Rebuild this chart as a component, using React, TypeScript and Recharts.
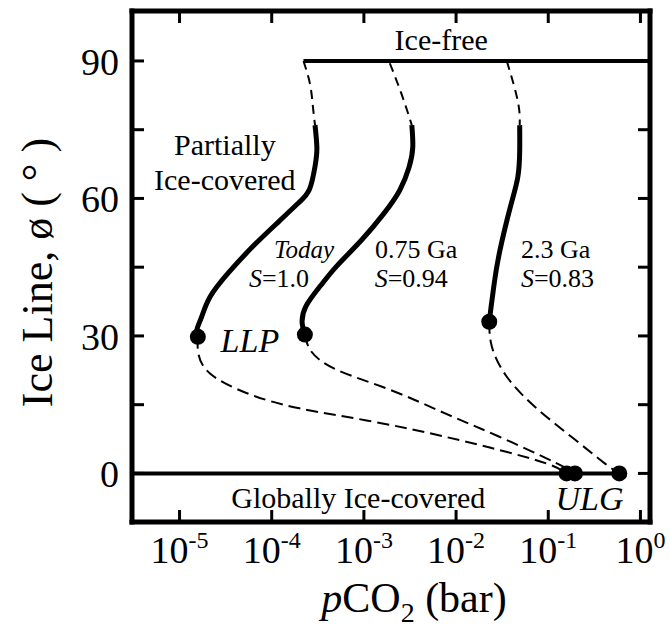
import React from 'react';
import { ComposedChart, Line, Scatter, XAxis, YAxis, ReferenceDot, Label } from 'recharts';

const SERIF = '"Liberation Serif", "Times New Roman", serif';

const X_MIN = 3.05e-6;
const X_MAX = 1.27;
const Y_MIN = -10.6;
const Y_MAX = 100.9;

const pTicks = [1e-5, 1e-4, 1e-3, 1e-2, 1e-1, 1];
const iceTicks = [0, 15, 30, 45, 60, 75, 90];
const iceTickLabels = [0, 30, 60, 90];

// Today, S=1.0
const todayUpper = [
  { p: 2.21e-4, y: 90 },
  { p: 2.6e-4, y: 85 },
  { p: 2.8e-4, y: 80 },
  { p: 2.95e-4, y: 76 },
];
const todaySolid = [
  { p: 2.95e-4, y: 76 },
  { p: 3.09e-4, y: 71 },
  { p: 2.95e-4, y: 67 },
  { p: 2.57e-4, y: 62 },
  { p: 1.95e-4, y: 59 },
  { p: 1.2e-4, y: 55 },
  { p: 6.3e-5, y: 49.6 },
  { p: 3.4e-5, y: 43.8 },
  { p: 2.14e-5, y: 38.5 },
  { p: 1.74e-5, y: 34.2 },
  { p: 1.55e-5, y: 31.5 },
  { p: 1.58e-5, y: 29.8 },
];
const todayLower = [
  { p: 1.58e-5, y: 29.8 },
  { p: 1.6e-5, y: 26.2 },
  { p: 2.14e-5, y: 21.8 },
  { p: 5.4e-5, y: 17.5 },
  { p: 2.0e-4, y: 14.2 },
  { p: 1.26e-3, y: 11.3 },
  { p: 7.6e-3, y: 8.0 },
  { p: 2.95e-2, y: 5.1 },
  { p: 9.5e-2, y: 2.2 },
  { p: 0.158, y: 0 },
];

// 0.75 Ga, S=0.94
const gaUpper075 = [
  { p: 1.91e-3, y: 89.5 },
  { p: 2.57e-3, y: 82.7 },
  { p: 3.31e-3, y: 76 },
];
const gaSolid075 = [
  { p: 3.31e-3, y: 76 },
  { p: 3.39e-3, y: 71.2 },
  { p: 3.09e-3, y: 66.8 },
  { p: 2.45e-3, y: 61.8 },
  { p: 1.66e-3, y: 56.8 },
  { p: 9.5e-4, y: 51.0 },
  { p: 5.1e-4, y: 45.3 },
  { p: 3.4e-4, y: 41 },
  { p: 2.34e-4, y: 36.4 },
  { p: 2.14e-4, y: 32.7 },
  { p: 2.29e-4, y: 30.3 },
];
const gaLower075 = [
  { p: 2.29e-4, y: 30.3 },
  { p: 2.69e-4, y: 26.6 },
  { p: 5.1e-4, y: 22.6 },
  { p: 1.95e-3, y: 18.2 },
  { p: 7.6e-3, y: 13.1 },
  { p: 2.95e-2, y: 8.0 },
  { p: 0.115, y: 2.5 },
  { p: 0.195, y: 0 },
];

// 2.3 Ga, S=0.83
const gaUpper23 = [
  { p: 3.55e-2, y: 90 },
  { p: 4.68e-2, y: 81.2 },
  { p: 4.9e-2, y: 76 },
];
const gaSolid23 = [
  { p: 4.9e-2, y: 76 },
  { p: 4.9e-2, y: 70.4 },
  { p: 4.68e-2, y: 64.7 },
  { p: 3.89e-2, y: 58.2 },
  { p: 2.95e-2, y: 48.1 },
  { p: 2.57e-2, y: 40.9 },
  { p: 2.4e-2, y: 36.4 },
  { p: 2.29e-2, y: 33.1 },
];
const gaLower23 = [
  { p: 2.29e-2, y: 33.1 },
  { p: 2.45e-2, y: 27.6 },
  { p: 3.55e-2, y: 21.1 },
  { p: 7.2e-2, y: 14.5 },
  { p: 0.178, y: 8.0 },
  { p: 0.41, y: 2.2 },
  { p: 0.59, y: 0 },
];

const iceFreeLine = [
  { p: 2.21e-4, y: 90 },
  { p: X_MAX, y: 90 },
];
const iceCoveredLine = [
  { p: X_MIN, y: 0 },
  { p: 0.59, y: 0 },
];

const llpPoints = [
  { p: 1.58e-5, y: 29.8 },
  { p: 2.29e-4, y: 30.3 },
  { p: 2.29e-2, y: 33.1 },
];
const ulgPoints = [
  { p: 0.158, y: 0 },
  { p: 0.195, y: 0 },
  { p: 0.59, y: 0 },
];

type Part = { t: string; i?: boolean };
type NoteLine = { parts: Part[]; size: number; dx?: number };
type Note = { p: number; y: number; lines: NoteLine[] };

const notes: Note[] = [
  { p: 6.9e-3, y: 94.6, lines: [{ parts: [{ t: 'Ice-free' }], size: 30 }] },
  { p: 3.1e-5, y: 71.6, lines: [{ parts: [{ t: 'Partially' }], size: 30 }] },
  { p: 3.1e-5, y: 64.0, lines: [{ parts: [{ t: 'Ice-covered' }], size: 30 }] },
  {
    p: 2.24e-4,
    y: 48.9,
    lines: [
      { parts: [{ t: 'Today', i: true }], size: 25 },
      { parts: [{ t: 'S', i: true }, { t: '=1.0' }], size: 26, dx: -25 },
    ],
  },
  {
    p: 3.7e-3,
    y: 48.9,
    lines: [
      { parts: [{ t: '0.75 Ga' }], size: 26 },
      { parts: [{ t: 'S', i: true }, { t: '=0.94' }], size: 26, dx: -5 },
    ],
  },
  {
    p: 0.12,
    y: 48.9,
    lines: [
      { parts: [{ t: '2.3 Ga' }], size: 26 },
      { parts: [{ t: 'S', i: true }, { t: '=0.83' }], size: 26, dx: 2 },
    ],
  },
  { p: 5.8e-5, y: 29.1, lines: [{ parts: [{ t: 'LLP', i: true }], size: 34 }] },
  { p: 8.7e-4, y: -5.4, lines: [{ parts: [{ t: 'Globally Ice-covered' }], size: 30 }] },
  { p: 0.28, y: -5.5, lines: [{ parts: [{ t: 'ULG', i: true }], size: 34 }] },
];

const LINE_GAP = 29;

const NoteText = ({ cx, cy, note }: any) => (
  <text x={cx} y={cy} textAnchor="middle" fontFamily={SERIF} fill="#000">
    {note.lines.map((ln: NoteLine, li: number) =>
      ln.parts.map((part, j) => (
        <tspan
          key={`${li}-${j}`}
          x={j === 0 ? cx + (ln.dx || 0) : undefined}
          y={j === 0 ? cy + li * LINE_GAP + ln.size * 0.34 : undefined}
          fontSize={ln.size}
          fontStyle={part.i ? 'italic' : 'normal'}
        >
          {part.t}
        </tspan>
      ))
    )}
  </text>
);

const BottomTick = ({ x, y, payload }: any) => {
  const exp = Math.round(Math.log10(payload.value));
  return (
    <g>
      <line x1={x} y1={y} x2={x} y2={y - 12} stroke="#000" strokeWidth={3} />
      <text x={x} y={y + 41} textAnchor="middle" fontSize={38} fontFamily={SERIF} fill="#000">
        10
        <tspan dy={-15} fontSize={24}>
          {String(exp)}
        </tspan>
      </text>
    </g>
  );
};

const TopTick = ({ x, y }: any) => (
  <line x1={x} y1={y} x2={x} y2={y + 12} stroke="#000" strokeWidth={3} />
);

const LeftTick = ({ x, y, payload }: any) => (
  <g>
    <line x1={x} y1={y} x2={x + 12} y2={y} stroke="#000" strokeWidth={3} />
    {iceTickLabels.includes(payload.value) && (
      <text x={x - 13} y={y} dy="0.36em" textAnchor="end" fontSize={38} fontFamily={SERIF} fill="#000">
        {payload.value}
      </text>
    )}
  </g>
);

const RightTick = ({ x, y }: any) => (
  <line x1={x} y1={y} x2={x - 12} y2={y} stroke="#000" strokeWidth={3} />
);

const XLabel = ({ viewBox }: any) => (
  <text
    x={viewBox.x + viewBox.width / 2 + 23}
    y={viewBox.y + 90}
    textAnchor="middle"
    fontSize={42}
    fontFamily={SERIF}
    fill="#000"
  >
    <tspan fontStyle="italic">p</tspan>
    CO
    <tspan dy={10} fontSize={28}>2</tspan>
    <tspan dy={-10}> (bar)</tspan>
  </text>
);

const YLabel = ({ viewBox }: any) => {
  const cx = viewBox.x + 37;
  const cy = viewBox.y + viewBox.height / 2 + 6;
  return (
    <text
      x={cx}
      y={cy}
      transform={`rotate(-90, ${cx}, ${cy})`}
      textAnchor="middle"
      dominantBaseline="central"
      fontSize={44}
      fontFamily={SERIF}
      fill="#000"
    >
      Ice Line, ø ( ° )
    </text>
  );
};

const BigDot = ({ cx, cy }: any) => <circle cx={cx} cy={cy} r={8} fill="#000" />;

const axisLine = { stroke: '#000', strokeWidth: 5, strokeLinecap: 'square' as const };

export default function App() {
  return (
    <div style={{ position: 'absolute', left: 0, top: 0, width: 670, height: 627, background: '#fff' }}>
      <ComposedChart width={670} height={627} margin={{ top: 0, right: 0, bottom: 0, left: 0 }}>
        <XAxis
          dataKey="p"
          type="number"
          scale="log"
          domain={[X_MIN, X_MAX]}
          allowDataOverflow
          ticks={pTicks}
          interval={0}
          height={105}
          tickSize={0}
          tickMargin={0}
          tickLine={false}
          axisLine={axisLine}
          tick={<BottomTick />}
        >
          <Label content={XLabel} />
        </XAxis>
        <XAxis
          xAxisId="top"
          orientation="top"
          dataKey="p"
          type="number"
          scale="log"
          domain={[X_MIN, X_MAX]}
          allowDataOverflow
          ticks={pTicks}
          interval={0}
          height={11}
          tickSize={0}
          tickMargin={0}
          tickLine={false}
          axisLine={axisLine}
          tick={<TopTick />}
        />
        <YAxis
          dataKey="y"
          type="number"
          domain={[Y_MIN, Y_MAX]}
          allowDataOverflow
          ticks={iceTicks}
          interval={0}
          width={132}
          tickSize={0}
          tickMargin={0}
          tickLine={false}
          axisLine={axisLine}
          tick={<LeftTick />}
        >
          <Label content={YLabel} />
        </YAxis>
        <YAxis
          yAxisId="right"
          orientation="right"
          dataKey="y"
          type="number"
          domain={[Y_MIN, Y_MAX]}
          allowDataOverflow
          ticks={iceTicks}
          interval={0}
          width={20}
          tickSize={0}
          tickMargin={0}
          tickLine={false}
          axisLine={axisLine}
          tick={<RightTick />}
        />

        <Line data={iceFreeLine} dataKey="y" type="linear" stroke="#000" strokeWidth={4} dot={false} activeDot={false} isAnimationActive={false} />
        <Line data={iceCoveredLine} dataKey="y" type="linear" stroke="#000" strokeWidth={4} dot={false} activeDot={false} isAnimationActive={false} />

        <Line data={todayUpper} dataKey="y" type="natural" stroke="#000" strokeWidth={2} strokeDasharray="9 6" dot={false} activeDot={false} isAnimationActive={false} />
        <Line data={todaySolid} dataKey="y" type="natural" stroke="#000" strokeWidth={5} dot={false} activeDot={false} isAnimationActive={false} />
        <Line data={todayLower} dataKey="y" type="natural" stroke="#000" strokeWidth={2} strokeDasharray="12 6" dot={false} activeDot={false} isAnimationActive={false} />

        <Line data={gaUpper075} dataKey="y" type="natural" stroke="#000" strokeWidth={2} strokeDasharray="9 6" dot={false} activeDot={false} isAnimationActive={false} />
        <Line data={gaSolid075} dataKey="y" type="natural" stroke="#000" strokeWidth={5} dot={false} activeDot={false} isAnimationActive={false} />
        <Line data={gaLower075} dataKey="y" type="natural" stroke="#000" strokeWidth={2} strokeDasharray="12 6" dot={false} activeDot={false} isAnimationActive={false} />

        <Line data={gaUpper23} dataKey="y" type="natural" stroke="#000" strokeWidth={2} strokeDasharray="9 6" dot={false} activeDot={false} isAnimationActive={false} />
        <Line data={gaSolid23} dataKey="y" type="natural" stroke="#000" strokeWidth={5} dot={false} activeDot={false} isAnimationActive={false} />
        <Line data={gaLower23} dataKey="y" type="natural" stroke="#000" strokeWidth={2} strokeDasharray="12 6" dot={false} activeDot={false} isAnimationActive={false} />

        <Scatter data={llpPoints} dataKey="y" shape={<BigDot />} isAnimationActive={false} />
        <Scatter data={ulgPoints} dataKey="y" shape={<BigDot />} isAnimationActive={false} />

        {notes.map((n, i) => (
          <ReferenceDot
            key={i}
            x={n.p}
            y={n.y}
            r={0}
            ifOverflow="visible"
            shape={(props: any) => <NoteText cx={props.cx} cy={props.cy} note={n} />}
          />
        ))}
      </ComposedChart>
    </div>
  );
}
